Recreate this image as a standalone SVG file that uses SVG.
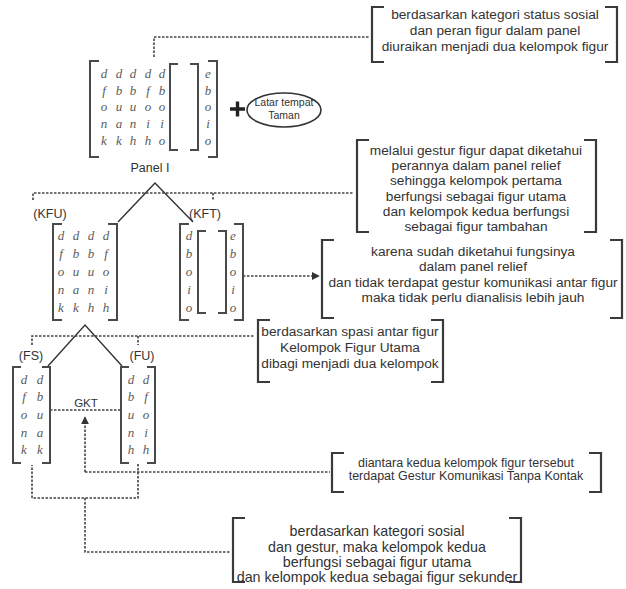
<svg xmlns="http://www.w3.org/2000/svg" width="626" height="589" viewBox="0 0 626 589">
  <style>
    .bk { fill: none; stroke: #3a3a3a; stroke-width: 2.2; }
    .mb { fill: none; stroke: #4a4a4a; stroke-width: 2; }
    .ln { fill: none; stroke: #333; stroke-width: 1.4; }
    .dash { fill: none; stroke: #444; stroke-width: 1.6; stroke-dasharray: 2.5 1.5; }
    .tx { font-family: "Liberation Sans", Arial, sans-serif; font-size: 13.7px; fill: #333; text-anchor: middle; }
    .lb { font-family: "Liberation Sans", Arial, sans-serif; font-size: 12.5px; fill: #333; text-anchor: middle; }
    .m { font-family: "Liberation Serif", "Times New Roman", serif; font-style: italic; font-size: 13px; fill: #5a5a5a; text-anchor: middle; }
  </style>
  <defs>
    <marker id="ah" viewBox="0 0 10 10" refX="9" refY="5" markerWidth="5" markerHeight="5" orient="auto">
      <path d="M0,0 L10,5 L0,10 Z" fill="#333"/>
    </marker>
  </defs>

  <rect width="626" height="589" fill="#fff"/>

  <!-- connectors -->
  <g id="connectors">
    <!-- top matrix to first note -->
    <path class="dash" d="M154,57 V37 H370"/>
    <!-- branching of panel I -->
    <path class="ln" d="M118,222 L155,183 L193,222"/>
    <path class="dash" d="M33,200 V193 H353"/>
    <path class="dash" d="M213,193 V200"/>
    <!-- KFT to note -->
    <path class="dash" d="M243,276 H319" marker-end="url(#ah)"/>
    <!-- branching of KFU -->
    <path class="ln" d="M48,366 L85,325 L122,366"/>
    <path class="dash" d="M32,345 V336 H255"/>
    <path class="dash" d="M138,336 V345"/>
    <!-- GKT link between FS and FU -->
    <path class="dash" d="M50,410 H121"/>
    <path class="dash" d="M85,472 V417" marker-end="url(#ah)"/>
    <path class="dash" d="M85,472 H330"/>
    <path class="dash" d="M138,464 V498 H32 V465"/>
    <path class="dash" d="M85,498 V552 H231"/>
  </g>

  <!-- note: kategori status sosial -->
  <g id="note-status">
    <path class="bk" d="M384,7 H372 V62 H384"/>
    <path class="bk" d="M605,7 H617 V62 H605"/>
    <text class="tx" x="495" y="19">berdasarkan kategori status sosial</text>
    <text class="tx" x="495" y="35">dan peran figur dalam panel</text>
    <text class="tx" x="495" y="51">diuraikan menjadi dua kelompok figur</text>
  </g>

  <!-- panel I matrix -->
  <g id="panel-matrix">
    <path class="mb" d="M99,61 H90 V157 H99"/>
    <path class="mb" d="M208,61 H217 V157 H208"/>
    <path class="mb" d="M178,64 H170 V150 H178"/>
    <path class="mb" d="M190,64 H198 V150 H190"/>
    <g class="m">
      <text x="104" y="78">d</text><text x="119" y="78">d</text><text x="133" y="78">d</text><text x="148" y="78">d</text><text x="162" y="78">d</text><text x="208" y="78">e</text>
      <text x="104" y="95">f</text><text x="119" y="95">b</text><text x="133" y="95">b</text><text x="148" y="95">f</text><text x="162" y="95">b</text><text x="208" y="95">b</text>
      <text x="104" y="111">o</text><text x="119" y="111">u</text><text x="133" y="111">u</text><text x="148" y="111">o</text><text x="162" y="111">o</text><text x="208" y="111">o</text>
      <text x="104" y="128">n</text><text x="119" y="128">a</text><text x="133" y="128">n</text><text x="148" y="128">i</text><text x="162" y="128">i</text><text x="208" y="128">i</text>
      <text x="104" y="145">k</text><text x="119" y="145">k</text><text x="133" y="145">h</text><text x="148" y="145">h</text><text x="162" y="145">o</text><text x="208" y="145">o</text>
    </g>
    <text class="lb" x="150" y="172">Panel I</text>
  </g>

  <!-- plus sign -->
  <g id="plus">
    <path d="M230,109 H245 M237.5,101.5 V116.5" stroke="#222" stroke-width="3.4" fill="none"/>
  </g>

  <!-- setting -->
  <g id="latar">
    <ellipse cx="284" cy="110" rx="37" ry="17" fill="none" stroke="#333" stroke-width="1.6"/>
    <text class="lb" x="284" y="106" style="font-size:10.5px">Latar tempat</text>
    <text class="lb" x="284" y="119" style="font-size:10.5px">Taman</text>
  </g>

  <!-- note: gestur figur -->
  <g id="note-gestur">
    <path class="bk" d="M369,140 H357 V232 H369"/>
    <path class="bk" d="M584,140 H596 V232 H584"/>
    <text class="tx" x="476" y="155">melalui gestur figur dapat diketahui</text>
    <text class="tx" x="476" y="170">perannya dalam panel relief</text>
    <text class="tx" x="476" y="185">sehingga kelompok pertama</text>
    <text class="tx" x="476" y="201">berfungsi sebagai figur utama</text>
    <text class="tx" x="476" y="216">dan kelompok kedua berfungsi</text>
    <text class="tx" x="476" y="231">sebagai figur tambahan</text>
  </g>

  <!-- KFU -->
  <g id="kfu">
    <text class="lb" x="50" y="218">(KFU)</text>
    <path class="mb" d="M62,224 H53 V320 H62"/>
    <path class="mb" d="M108,224 H117 V320 H108"/>
    <g class="m">
      <text x="61" y="240">d</text><text x="76" y="240">d</text><text x="91" y="240">d</text><text x="106" y="240">d</text>
      <text x="61" y="258">f</text><text x="76" y="258">b</text><text x="91" y="258">b</text><text x="106" y="258">f</text>
      <text x="61" y="276">o</text><text x="76" y="276">u</text><text x="91" y="276">u</text><text x="106" y="276">o</text>
      <text x="61" y="294">n</text><text x="76" y="294">a</text><text x="91" y="294">n</text><text x="106" y="294">i</text>
      <text x="61" y="312">k</text><text x="76" y="312">k</text><text x="91" y="312">h</text><text x="106" y="312">h</text>
    </g>
  </g>

  <!-- KFT -->
  <g id="kft">
    <text class="lb" x="205" y="218">(KFT)</text>
    <path class="mb" d="M189,224 H180 V320 H189"/>
    <path class="mb" d="M234,224 H243 V320 H234"/>
    <path class="mb" d="M206,231 H198 V313 H206"/>
    <path class="mb" d="M218,231 H226 V313 H218"/>
    <g class="m">
      <text x="189" y="240">d</text><text x="233" y="240">e</text>
      <text x="189" y="258">b</text><text x="233" y="258">b</text>
      <text x="189" y="276">o</text><text x="233" y="276">o</text>
      <text x="189" y="294">i</text><text x="233" y="294">i</text>
      <text x="189" y="312">o</text><text x="233" y="312">o</text>
    </g>
  </g>

  <!-- note: fungsi -->
  <g id="note-fungsi">
    <path class="bk" d="M334,240 H322 V318 H334"/>
    <path class="bk" d="M610,240 H622 V318 H610"/>
    <text class="tx" x="473" y="256">karena sudah diketahui fungsinya</text>
    <text class="tx" x="473" y="271">dalam panel relief</text>
    <text class="tx" x="473" y="287">dan tidak terdapat gestur komunikasi antar figur</text>
    <text class="tx" x="473" y="302">maka tidak perlu dianalisis lebih jauh</text>
  </g>

  <!-- note: spasi -->
  <g id="note-spasi">
    <path class="bk" d="M270,320 H258 V382 H270"/>
    <path class="bk" d="M431,320 H443 V382 H431"/>
    <text class="tx" x="350" y="336">berdasarkan spasi antar figur</text>
    <text class="tx" x="350" y="352">Kelompok Figur Utama</text>
    <text class="tx" x="350" y="368">dibagi menjadi dua kelompok</text>
  </g>

  <!-- FS -->
  <g id="fs">
    <text class="lb" x="31" y="360">(FS)</text>
    <path class="mb" d="M21,367 H13 V463 H21"/>
    <path class="mb" d="M42,367 H50 V463 H42"/>
    <g class="m">
      <text x="24" y="384">d</text><text x="40" y="384">d</text>
      <text x="24" y="401">f</text><text x="40" y="401">b</text>
      <text x="24" y="419">o</text><text x="40" y="419">u</text>
      <text x="24" y="437">n</text><text x="40" y="437">a</text>
      <text x="24" y="454">k</text><text x="40" y="454">k</text>
    </g>
  </g>

  <!-- FU -->
  <g id="fu">
    <text class="lb" x="142" y="360">(FU)</text>
    <path class="mb" d="M129,367 H121 V463 H129"/>
    <path class="mb" d="M147,367 H155 V463 H147"/>
    <g class="m">
      <text x="131" y="384">d</text><text x="146" y="384">d</text>
      <text x="131" y="401">b</text><text x="146" y="401">f</text>
      <text x="131" y="419">u</text><text x="146" y="419">o</text>
      <text x="131" y="437">n</text><text x="146" y="437">i</text>
      <text x="131" y="454">h</text><text x="146" y="454">h</text>
    </g>
  </g>

  <!-- GKT label -->
  <g id="gkt">
    <text class="lb" x="86" y="407" style="font-size:11.5px">GKT</text>
  </g>

  <!-- note: gestur komunikasi -->
  <g id="note-gkt">
    <path class="bk" d="M344,453 H332 V492 H344"/>
    <path class="bk" d="M589,453 H601 V492 H589"/>
    <text class="tx" x="466" y="467" style="font-size:12.5px">diantara kedua kelompok figur tersebut</text>
    <text class="tx" x="466" y="480" style="font-size:12.5px">terdapat Gestur Komunikasi Tanpa Kontak</text>
  </g>

  <!-- note: kategori sosial -->
  <g id="note-sosial">
    <path class="bk" d="M245,518 H233 V582 H245"/>
    <path class="bk" d="M509,518 H521 V582 H509"/>
    <text class="tx" x="377" y="536" style="font-size:14.3px">berdasarkan kategori sosial</text>
    <text class="tx" x="377" y="552" style="font-size:14.3px">dan gestur, maka kelompok kedua</text>
    <text class="tx" x="377" y="567" style="font-size:14.3px">berfungsi sebagai figur utama</text>
    <text class="tx" x="377" y="582" style="font-size:14.3px">dan kelompok kedua sebagai figur sekunder</text>
  </g>
</svg>
